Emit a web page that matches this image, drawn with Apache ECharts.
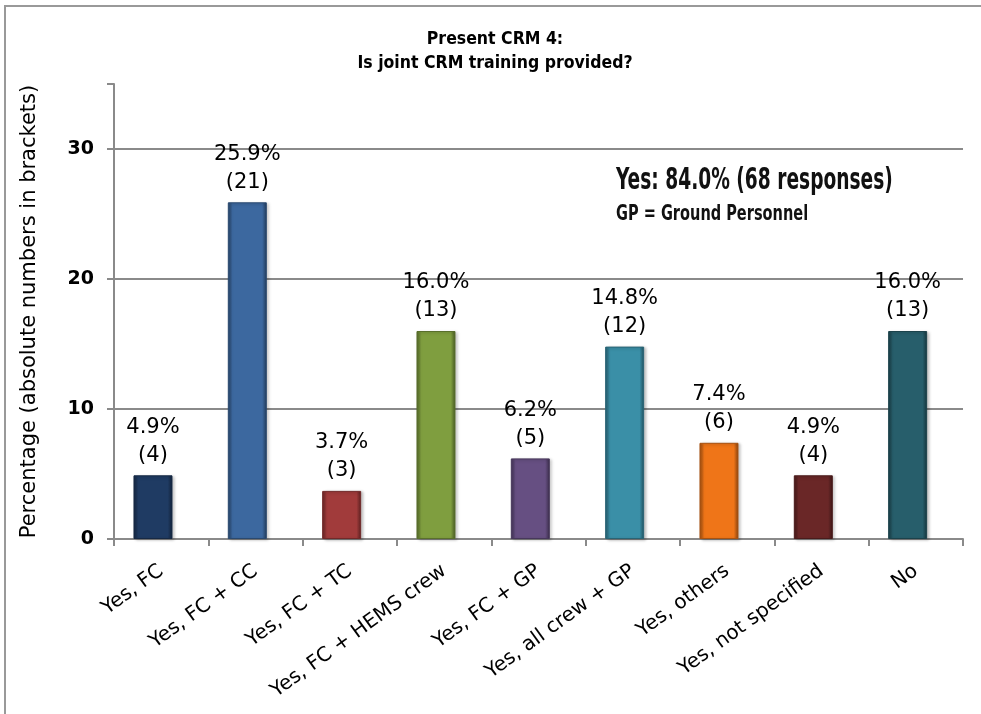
<!DOCTYPE html>
<html>
<head>
<meta charset="utf-8">
<script src="https://cdn.jsdelivr.net/npm/echarts@6/dist/echarts.min.js"></script>
<style>html,body{margin:0;padding:0;background:#fff}#c{width:981px;height:714px}</style>
</head>
<body>
<div id="c"></div>
<script>
var categories = ['Yes, FC','Yes, FC + CC','Yes, FC + TC','Yes, FC + HEMS crew','Yes, FC + GP','Yes, all crew + GP','Yes, others','Yes, not specified','No'];
var percentages = [4.9, 25.9, 3.7, 16.0, 6.2, 14.8, 7.4, 4.9, 16.0];
var counts = [4, 21, 3, 13, 5, 12, 6, 4, 13];
var barColors = ['#1f3b63','#3c689f','#a13b3b','#7f9e3f','#664f82','#3a8fa7','#ef7518','#6a2727','#275e6b'];
var yTicks = [0, 10, 20, 30];

function shade(hex, f){
  var r=parseInt(hex.substr(1,2),16),g=parseInt(hex.substr(3,2),16),b=parseInt(hex.substr(5,2),16);
  function c(v){v=f<0?v*(1+f):v+(255-v)*f;return Math.max(0,Math.min(255,Math.round(v)));}
  return 'rgb('+c(r)+','+c(g)+','+c(b)+')';
}

var chart = echarts.init(document.getElementById('c'));
var data = percentages.map(function(v,i){
  var col = barColors[i];
  return {
    value: v,
    itemStyle: {
      color: {type:'linear',x:0,y:0,x2:1,y2:0,colorStops:[
        {offset:0,color:shade(col,-0.35)},
        {offset:0.12,color:col},
        {offset:0.88,color:col},
        {offset:1,color:shade(col,-0.45)}
      ]},
      borderColor: shade(col,-0.3),
      borderWidth: 1,
      shadowColor: 'rgba(0,0,0,0.25)',
      shadowBlur: 3,
      shadowOffsetX: 2,
      shadowOffsetY: 1
    }
  };
});
var spacer = categories.map(function(){ return '-'; });

chart.setOption({
  animation: false,
  title: {
    text: 'Present CRM 4:\nIs joint CRM training provided?',
    left: 490, top: 22, textAlign: 'center',
    textStyle: {fontFamily:'DejaVu Sans Condensed', fontWeight:'bold', fontSize:17.5, lineHeight:24, color:'#000'}
  },
  graphic: [
    {type:'rect', shape:{x:5,y:6,width:1000,height:800}, style:{fill:'none', stroke:'#999', lineWidth:2}, silent:true},
    {type:'text', x:616, y:166, scaleX:0.69, style:{text:'Yes: 84.0% (68 responses)', font:'bold 30px "DejaVu Sans Condensed", sans-serif', fill:'#111'}},
    {type:'text', x:616, y:204, scaleX:0.77, style:{text:'GP = Ground Personnel', font:'bold 21px "DejaVu Sans Condensed", sans-serif', fill:'#111'}}
  ],
  grid: {left:114, right:18, top:84, bottom:175, containLabel:false},
  xAxis: {
    type: 'category',
    data: categories,
    axisLine: {lineStyle:{color:'#8a8a8a', width:2}},
    axisTick: {show:true, alignWithLabel:false, length:7, lineStyle:{color:'#8a8a8a', width:2}},
    axisLabel: {rotate:36, interval:0, margin:30, fontFamily:'DejaVu Sans', fontSize:20, color:'#000'}
  },
  yAxis: {
    type: 'value',
    min: 0, max: 35, interval: 10,
    name: 'Percentage (absolute numbers in brackets)',
    nameLocation: 'middle',
    nameGap: 74,
    nameTextStyle: {fontFamily:'DejaVu Sans', fontSize:21, color:'#000'},
    axisLine: {show:true, lineStyle:{color:'#8a8a8a', width:2}},
    axisTick: {show:true, length:7, lineStyle:{color:'#8a8a8a', width:2}},
    axisLabel: {
      margin: 20,
      fontFamily:'DejaVu Sans', fontWeight:'bold', fontSize:19, color:'#000',
      formatter: function(v){ return yTicks.indexOf(v) >= 0 ? String(v) : ''; }
    },
    splitLine: {show:true, lineStyle:{color:['#8a8a8a','#8a8a8a','#8a8a8a','#8a8a8a','rgba(0,0,0,0)'], width:2}}
  },
  series: [{
    type: 'bar',
    data: data,
    barWidth: 39,
    barGap: '-58%',
    label: {
      show: true, position: 'top', distance: 6,
      fontFamily:'DejaVu Sans', fontSize:21, lineHeight:28, color:'#000',
      formatter: function(p){ return percentages[p.dataIndex].toFixed(1) + '%\n(' + counts[p.dataIndex] + ')'; }
    }
  }, {
    type: 'bar',
    data: spacer,
    barWidth: 39,
    silent: true,
    itemStyle: {color:'rgba(0,0,0,0)'}
  }]
});
</script>
</body>
</html>
